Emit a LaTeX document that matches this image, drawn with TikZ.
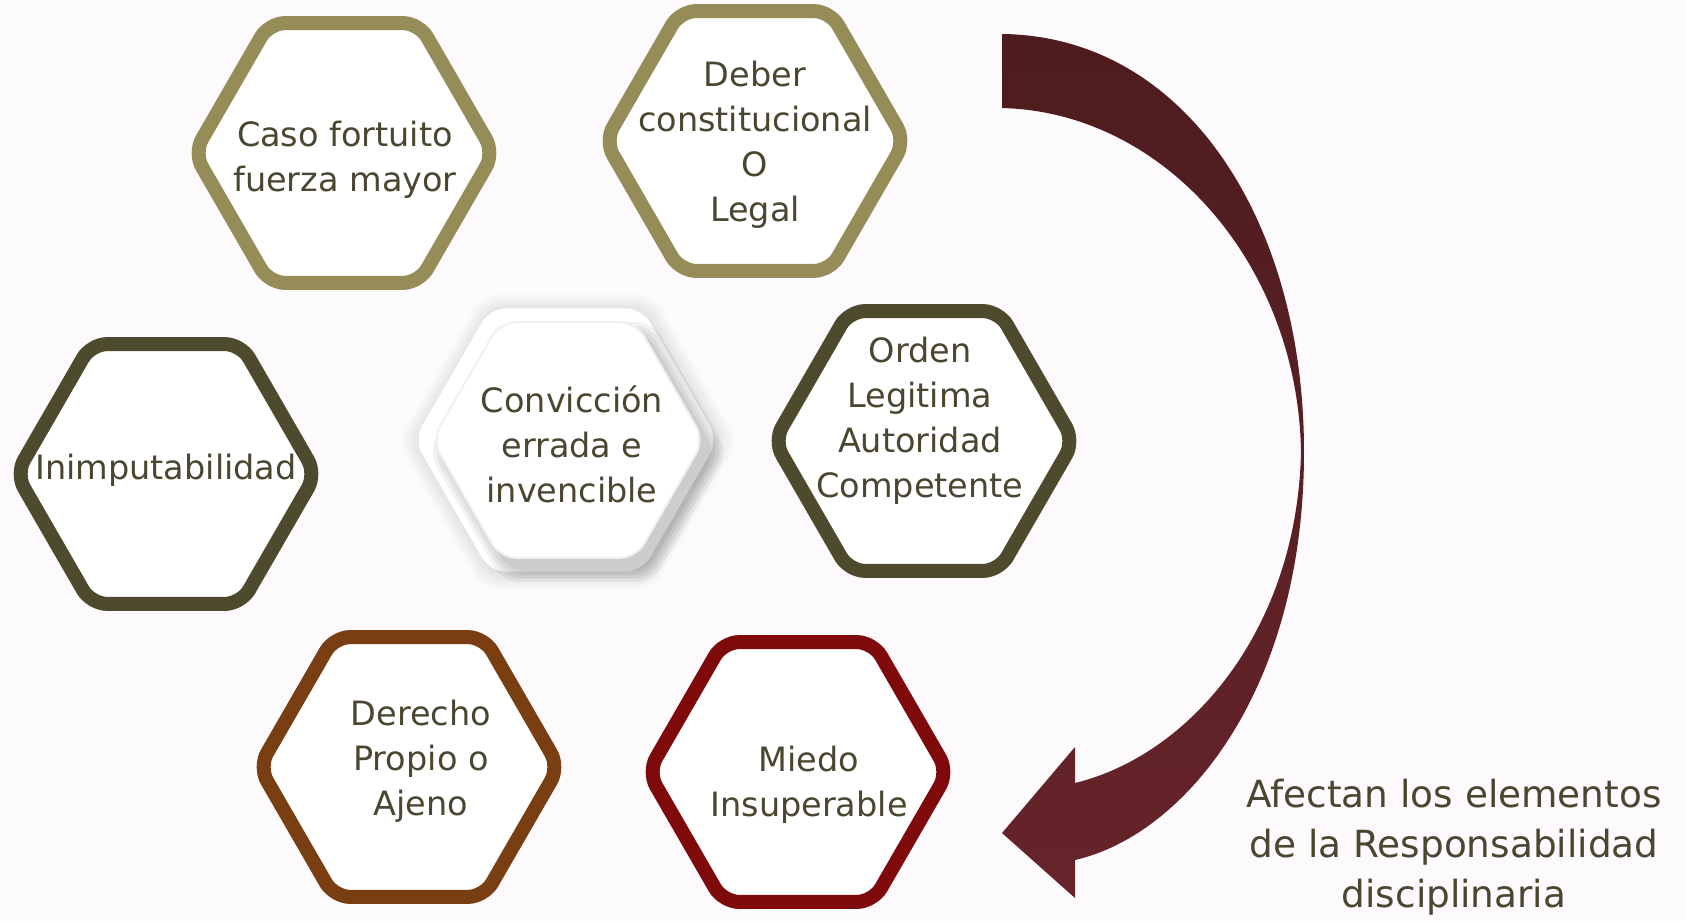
\documentclass[tikz,border=0pt]{standalone}
\usepackage{fontspec}
\setmainfont{DejaVu Sans}
\usetikzlibrary{shapes.geometric}

\definecolor{olivel}{HTML}{958C58}
\definecolor{olived}{HTML}{4D4A2E}
\definecolor{brownh}{HTML}{7A3E13}
\definecolor{redh}{HTML}{7E0A0C}
\definecolor{txtc}{HTML}{4B4630}
\definecolor{bgc}{HTML}{FCFAFC}
\definecolor{arrtop}{HTML}{4E1C1E}
\definecolor{arrbot}{HTML}{66242A}

\begin{document}
\begin{tikzpicture}[x=0.5pt, y=-0.5pt]

\tikzstyle{hexa}=[regular polygon, regular polygon sides=6, minimum size=150pt, inner sep=0pt, line width=7pt, rounded corners=8pt, fill=white];
\tikzstyle{soft}=[regular polygon, regular polygon sides=6, inner sep=0pt, rounded corners=8pt, fill=black];
\tikzstyle{t}=[text=txtc, align=center, inner sep=0pt, font=\fontsize{16.75}{22.5}\selectfont];

\useasboundingbox[fill=bgc] (0,0) rectangle (1686,921);

\node[hexa, draw=olivel] (caso) at (344,153) {};
\node[hexa, draw=olivel] (deber) at (755,141) {};
\node[hexa, draw=olived] (inim) at (166,474) {};
\node[hexa, draw=olived] (orden) at (924,441) {};
\node[hexa, draw=brownh] (derecho) at (409,767) {};
\node[hexa, draw=redh] (miedo) at (798,772) {};

% center one, no border, soft glow and shadow
\foreach \s in {170,166,...,150}
  \node[soft, fill opacity=0.018, minimum size=\s pt] at (568,442) {};
\node[soft, fill=white, minimum size=152pt] (conv_glow) at (566,440) {};
\foreach \s in {150,146,...,136}
  \node[soft, fill opacity=0.05, minimum size=\s pt] at (578,452) {};
\node[hexa, draw=gray!12, line width=1pt, minimum size=136pt] (conv) at (568,440) {};

\node[t] (caso_t) at (345,160) {Caso fortuito\\fuerza mayor};
\node[t] (deber_t) at (755,145) {Deber\\constitucional\\O\\Legal};
\node[t] (inim_t) at (166,470) {Inimputabilidad};
\node[t] (conv_t) at (572,444) {Convicción\\errada e\\invencible};
\node[t] (orden_t) at (920,421) {Orden\\Legitima\\Autoridad\\Competente};
\node[t] (derecho_t) at (421,761) {Derecho\\Propio o\\Ajeno};
\node[t] (miedo_t) at (809,785) {Miedo\\Insuperable};

% curved arrow
\coordinate (tail_top) at (1002,34);
\coordinate (tail_bot) at (1002,108);
\coordinate (mid_out) at (1304,452);
\coordinate (mid_in) at (1301,452);
\coordinate (head_tip) at (1002,833);
\shade[top color=arrtop, bottom color=arrbot]
  (tail_top) .. controls (1185,36) and (1304,220) .. (mid_out)
  .. controls (1304,690) and (1185,835) .. (1075,860)
  -- (1075,898) -- (head_tip) -- (1075,747) -- (1075,783)
  .. controls (1190,755) and (1297,630) .. (mid_in)
  .. controls (1298,265) and (1165,112) .. (tail_bot) -- cycle;

\node[text=txtc, align=center, font=\fontsize{18.7}{25}\selectfont] (afectan) at (1454,847) {Afectan los elementos\\de la Responsabilidad\\disciplinaria};
\end{tikzpicture}
\end{document}
